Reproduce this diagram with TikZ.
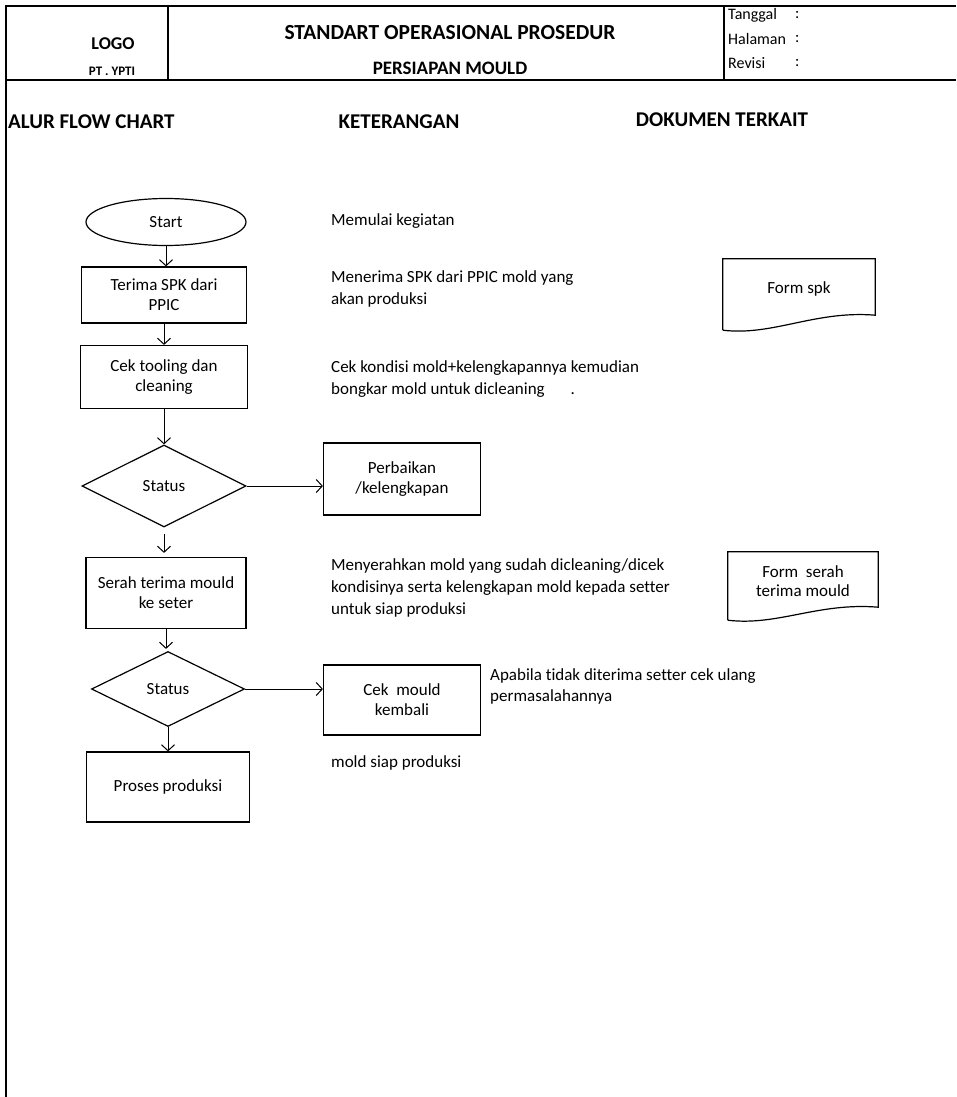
\documentclass[tikz,border=0pt]{standalone}
\usepackage{fontspec}
\setmainfont{Carlito}[Ligatures={NoCommon}]
\usetikzlibrary{arrows.meta,shapes.geometric,calc}
\newcommand\fsz[2]{\fontsize{#1}{#2}\selectfont}

\begin{document}
\begin{tikzpicture}[x=1pt,y=-1pt,
  frame/.style={line width=1.3pt},
  hdr/.style={inner sep=0pt,font=\fsz{21}{24}\bfseries},
  meta/.style={inner sep=0pt,anchor=west,font=\fsz{16}{20}},
  note/.style={inner sep=0pt,anchor=west,align=left,font=\fsz{17}{22}},
  procbox/.style={draw,line width=1.2pt,inner sep=2pt,align=center,
    font=\fsz{17}{20},minimum width=#1},
  procbox/.default=165pt,
  decision/.style={draw,diamond,line width=1.2pt,inner sep=0pt,
    font=\fsz{17}{20}},
  docnode/.style={inner sep=0pt,align=center,font=\fsz{17}{19},
    minimum width=152pt},
  docline/.style={line width=1.2pt},
  arr/.style={line width=1pt,-{Straight Barb[length=6pt,width=13pt]}}
]
\useasboundingbox (0,0) rectangle (956,1097);
\fill[white] (0,0) rectangle (956,1097);

% ---- page frame and header table ----
\draw[frame] (956,6) -- (6,6) -- (6,1097);
\draw[frame] (6,80) -- (956,80);
\draw[frame] (168,6) -- (168,80);
\draw[frame] (724,6) -- (724,80);

\node[inner sep=0pt,font=\fsz{18}{20}\bfseries] (logo) at (113,44) {LOGO};
\node[inner sep=0pt,font=\fsz{13}{15}\bfseries] (pt) at (112,71) {PT . YPTI};
\node[hdr,font=\fsz{21.5}{24}\bfseries] (sop) at (450,33) {STANDART OPERASIONAL PROSEDUR};
\node[hdr,font=\fsz{19}{22}\bfseries] (title) at (450,68) {PERSIAPAN MOULD};

\node[meta] (tgl) at (728,15) {Tanggal};
\node[meta] (hal) at (728,39) {Halaman};
\node[meta] (rev) at (728,63) {Revisi};
\node[meta] (c1) at (795,15) {:};
\node[meta] (c2) at (795,39) {:};
\node[meta] (c3) at (795,63) {:};

% ---- column titles ----
\node[hdr,anchor=west] (colflow) at (8,122) {ALUR FLOW CHART};
\node[hdr] (colket) at (399,122) {KETERANGAN};
\node[hdr] (coldok) at (722,120) {DOKUMEN TERKAIT};

% ---- flow chart ----
\node[draw,ellipse,line width=1.2pt,minimum width=160pt,minimum height=47pt,
      inner sep=0pt,font=\fsz{17}{20}] (start) at (166,222) {Start};
\node[procbox,minimum height=56pt] (spk) at (164,295) {Terima SPK dari\\PPIC};
\node[procbox=167pt,minimum height=63pt] (cek) at (164,377) {Cek tooling dan\\cleaning};
\node[decision,minimum width=164pt,minimum height=82pt] (st1) at (164,486) {Status};
\node[procbox=157pt,minimum height=72pt] (perb) at (402,479) {Perbaikan\\/kelengkapan};
\node[procbox=160pt,minimum height=71pt] (serah) at (166,593) {Serah terima mould\\ke seter};
\node[decision,minimum width=153pt,minimum height=75pt] (st2) at (168,689) {Status};
\node[procbox=157pt,minimum height=70pt] (ulang) at (402,700) {Cek~ mould\\kembali};
\node[procbox=163pt,minimum height=70pt] (prod) at (168,787) {Proses produksi};

\draw[arr] (start.south) -- (start.south |- spk.north);
\draw[arr] (spk.south) -- (spk.south |- cek.north);
\draw[arr] (cek.south) -- (cek.south |- st1.north);
\draw[arr,shorten <=6pt,shorten >=4pt] (st1.south) -- (st1.south |- serah.north);
\draw[arr,shorten >=2pt] (serah.south) -- (serah.south |- st2.north);
\draw[arr] (st2.south) -- (st2.south |- prod.north);
\draw[arr] (st1.east) -- (st1.east -| perb.west);
\draw[arr] (st2.east) -- (st2.east -| ulang.west);

% ---- descriptions ----
\node[note] (k0) at (331,221) {Memulai kegiatan};
\node[note] (k1) at (331,289) {Menerima SPK dari PPIC mold yang\\akan produksi};
\node[note] (k2) at (331,379) {Cek kondisi mold+kelengkapannya kemudian\\bongkar mold untuk dicleaning\hspace{26pt}.};
\node[note] (k3) at (331,588) {Menyerahkan mold yang sudah dicleaning/dicek\\kondisinya serta kelengkapan mold kepada setter\\untuk siap produksi};
\node[note,font=\fsz{17}{21}] (k4) at (490,686) {Apabila tidak diterima setter cek ulang\\permasalahannya};
\node[note] (k5) at (331,763) {mold siap produksi};

% ---- related documents ----
\node[docnode,minimum height=60pt] (fspk) at (799,289) {Form spk};
\draw[docline] (fspk.south west) ++(0,11) -- (fspk.north west) -- (fspk.north east)
  -- ($(fspk.south east)+(0,-4)$)
  .. controls ($(fspk.south east)+(-60,-9)$) and ($(fspk.south west)+(50,17)$)
  .. ($(fspk.south west)+(0,11)$);
\node[docnode,minimum width=150pt,minimum height=58pt] (fser) at (803,581) {Form~ serah\\terima mould};
\draw[docline] (fser.south west) ++(0,10) -- (fser.north west) -- (fser.north east)
  -- ($(fser.south east)+(0,-3)$)
  .. controls ($(fser.south east)+(-60,-8)$) and ($(fser.south west)+(50,16)$)
  .. ($(fser.south west)+(0,10)$);
\end{tikzpicture}
\end{document}
